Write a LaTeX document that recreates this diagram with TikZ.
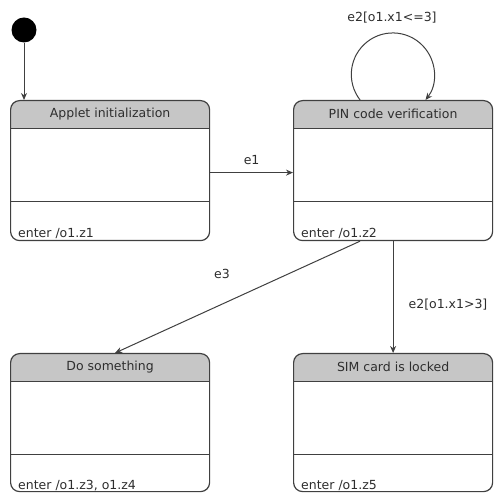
\documentclass[tikz,border=0pt]{standalone}
\usepackage{fontspec}
\setmainfont{DejaVu Sans}
\usetikzlibrary{arrows.meta}
\definecolor{edge}{HTML}{404040}
\definecolor{hdr}{HTML}{C6C6C6}
\definecolor{txt}{HTML}{2E2E2E}
\tikzset{
  statebox/.style={draw=edge, line width=1.2pt, rounded corners=9pt,
    minimum width=199pt, minimum height=140pt, anchor=north west, inner sep=0pt,
    path picture={
      \begin{scope}[sharp corners]
      \fill[hdr] ([xshift=-2pt,yshift=2pt]path picture bounding box.north west) rectangle ([xshift=2pt,yshift=-28pt]path picture bounding box.north east);
      \draw[edge, line width=1.2pt] ([yshift=-28pt]path picture bounding box.north west) -- ([yshift=-28pt]path picture bounding box.north east);
      \draw[edge, line width=1.2pt] ([yshift=-101pt]path picture bounding box.north west) -- ([yshift=-101pt]path picture bounding box.north east);
      \end{scope}
    }},
  title/.style={font=\fontsize{12.5}{14}\selectfont, text=txt, inner sep=0pt},
  entry/.style={font=\fontsize{12.5}{14}\selectfont, text=txt, inner sep=0pt, anchor=base west},
  lbl/.style={font=\fontsize{12.5}{14}\selectfont, text=txt, inner sep=0pt},
  trans/.style={draw=edge, line width=1pt, -{Stealth[length=7pt,width=6pt]}},
  initdot/.style={circle, fill=black, minimum size=25pt, inner sep=0pt}
}
\begin{document}
\begin{tikzpicture}[x=1pt,y=1pt]
\useasboundingbox (0,0) rectangle (494,492);
\fill[white] (0,0) rectangle (494,492);
% states
\node[statebox] (s1) at (10,392) {};
\node[statebox] (s2) at (293,392) {};
\node[statebox, minimum height=138pt] (s3) at (10,139) {};
\node[statebox, minimum height=138pt] (s4) at (293,139) {};
% titles
\node[title] (t1) at ([yshift=-14pt]s1.north) {Applet initialization};
\node[title] (t2) at ([yshift=-14pt]s2.north) {PIN code verification};
\node[title] (t3) at ([yshift=-14pt]s3.north) {Do something};
\node[title] (t4) at ([yshift=-14pt]s4.north) {SIM card is locked};
% entries
\node[entry] (n1) at ([xshift=8pt,yshift=4pt]s1.south west) {enter /o1.z1};
\node[entry] (n2) at ([xshift=8pt,yshift=4pt]s2.south west) {enter /o1.z2};
\node[entry] (n3) at ([xshift=8pt,yshift=3pt]s3.south west) {enter /o1.z3, o1.z4};
\node[entry] (n4) at ([xshift=8pt,yshift=3pt]s4.south west) {enter /o1.z5};
% initial
\node[initdot] (init) at (24,462) {};
\draw[trans] (init) -- (init |- s1.north);
% e1
\draw[trans] ([yshift=-2pt]s1.east) -- ([yshift=-2pt]s2.west) node[lbl, pos=0.5, above=7pt] (l1) {e1};
% self loop
\draw[trans] ([xshift=-33pt]s2.north) arc[start angle=218, end angle=-38, radius=41.5];
\node[lbl] (l2) at (392,474) {e2[o1.x1<=3]};
% e3
\draw[trans] ([xshift=67pt]s2.south west) -- ([xshift=105pt]s3.north west);
\node[lbl] (l3) at (222,218) {e3};
% e2 >3
\draw[trans] (s2.south) -- (s4.north);
\node[lbl] (l4) at (448,187) {e2[o1.x1>3]};
\end{tikzpicture}
\end{document}
